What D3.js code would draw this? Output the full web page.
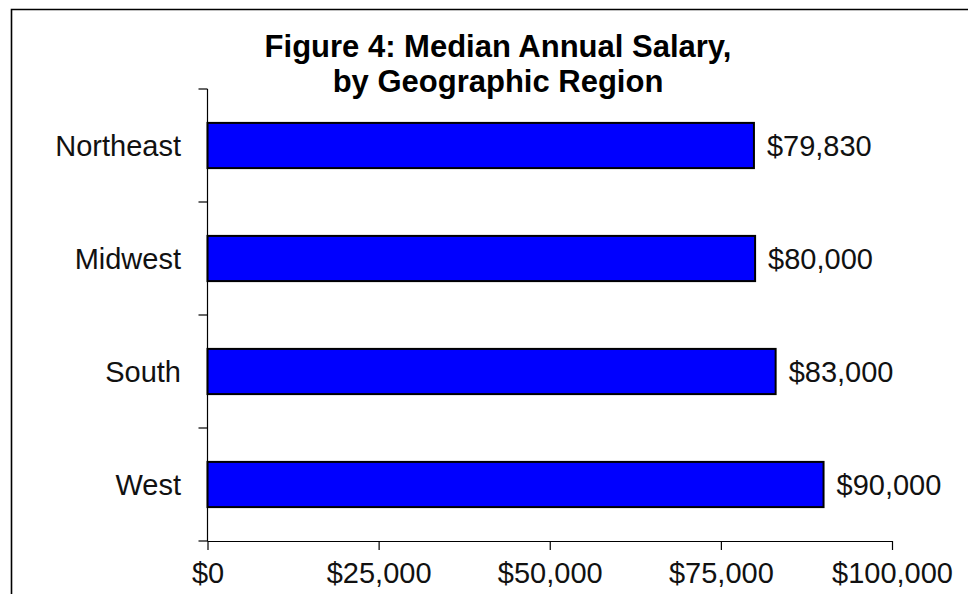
<!DOCTYPE html>
<html><head><meta charset="utf-8">
<script src="https://cdn.jsdelivr.net/npm/d3@7"></script>
<style>body{margin:0;background:#fff;}svg{display:block;}</style>
</head><body>
<script>
const categories = ["Northeast", "Midwest", "South", "West"];
const values = [79830, 80000, 83000, 90000];
const valueLabels = ["$79,830", "$80,000", "$83,000", "$90,000"];
const xTicks = [0, 25000, 50000, 75000, 100000];
const xTickLabels = ["$0", "$25,000", "$50,000", "$75,000", "$100,000"];
const titleLines = ["Figure 4: Median Annual Salary,", "by Geographic Region"];

const W = 968, H = 594;
const svg = d3.select("body").append("svg").attr("width", W).attr("height", H);
const font = "Liberation Sans, Arial, sans-serif";

// frame
svg.append("path").attr("d", "M11.5,594 V9.5 H968").attr("fill", "none")
  .attr("stroke", "#000").attr("stroke-width", 1.6);

const x = d3.scaleLinear().domain([0, 100000]).range([207.5, 892]);
const y = d3.scaleBand().domain(categories).range([89, 541]).paddingInner(0.6).paddingOuter(0.3);

// title
svg.append("g").selectAll("text").data(titleLines).join("text")
  .attr("x", 498).attr("y", (d, i) => 57 + i * 35)
  .attr("text-anchor", "middle").attr("font-family", font)
  .attr("font-weight", "bold").attr("font-size", 31).attr("fill", "#000")
  .text(d => d);

// bars
svg.append("g").selectAll("rect").data(values).join("rect")
  .attr("x", x(0)).attr("y", (d, i) => y(categories[i]))
  .attr("width", d => x(d) - x(0)).attr("height", y.bandwidth())
  .attr("fill", "#0000FF").attr("stroke", "#000").attr("stroke-width", 2);

// value labels
svg.append("g").selectAll("text").data(values).join("text")
  .attr("x", d => x(d) + 13).attr("y", (d, i) => y(categories[i]) + y.bandwidth() / 2)
  .attr("dy", "0.35em").attr("font-family", font).attr("font-size", 29).attr("fill", "#111")
  .text((d, i) => valueLabels[i]);

// y axis (category boundaries as ticks)
const yAxisG = svg.append("g");
yAxisG.append("line").attr("x1", x(0)).attr("x2", x(0)).attr("y1", 89).attr("y2", 541)
  .attr("stroke", "#000").attr("stroke-width", 1.2);
const bounds = d3.range(categories.length + 1).map(i => 89 + i * y.step());
yAxisG.selectAll("line.t").data(bounds).join("line").attr("class", "t")
  .attr("x1", x(0) - 9).attr("x2", x(0)).attr("y1", d => d).attr("y2", d => d)
  .attr("stroke", "#000").attr("stroke-width", 1.2);
yAxisG.selectAll("text").data(categories).join("text")
  .attr("x", 181).attr("y", d => y(d) + y.bandwidth() / 2).attr("dy", "0.35em")
  .attr("text-anchor", "end").attr("font-family", font).attr("font-size", 29).attr("fill", "#111")
  .text(d => d);

// x axis
const xAxis = d3.axisBottom(x).tickValues(xTicks).tickSize(9).tickPadding(12)
  .tickFormat((d, i) => xTickLabels[i]);
const xg = svg.append("g").attr("transform", "translate(0,541)").call(xAxis);
xg.select(".domain").attr("stroke-width", 1.2).attr("d", `M${x(0)},0.5H${x(100000)}`);
xg.selectAll(".tick line").attr("stroke-width", 1.2);
xg.selectAll("text").attr("font-family", font).attr("font-size", 29).attr("fill", "#111");
</script>
</body></html>
